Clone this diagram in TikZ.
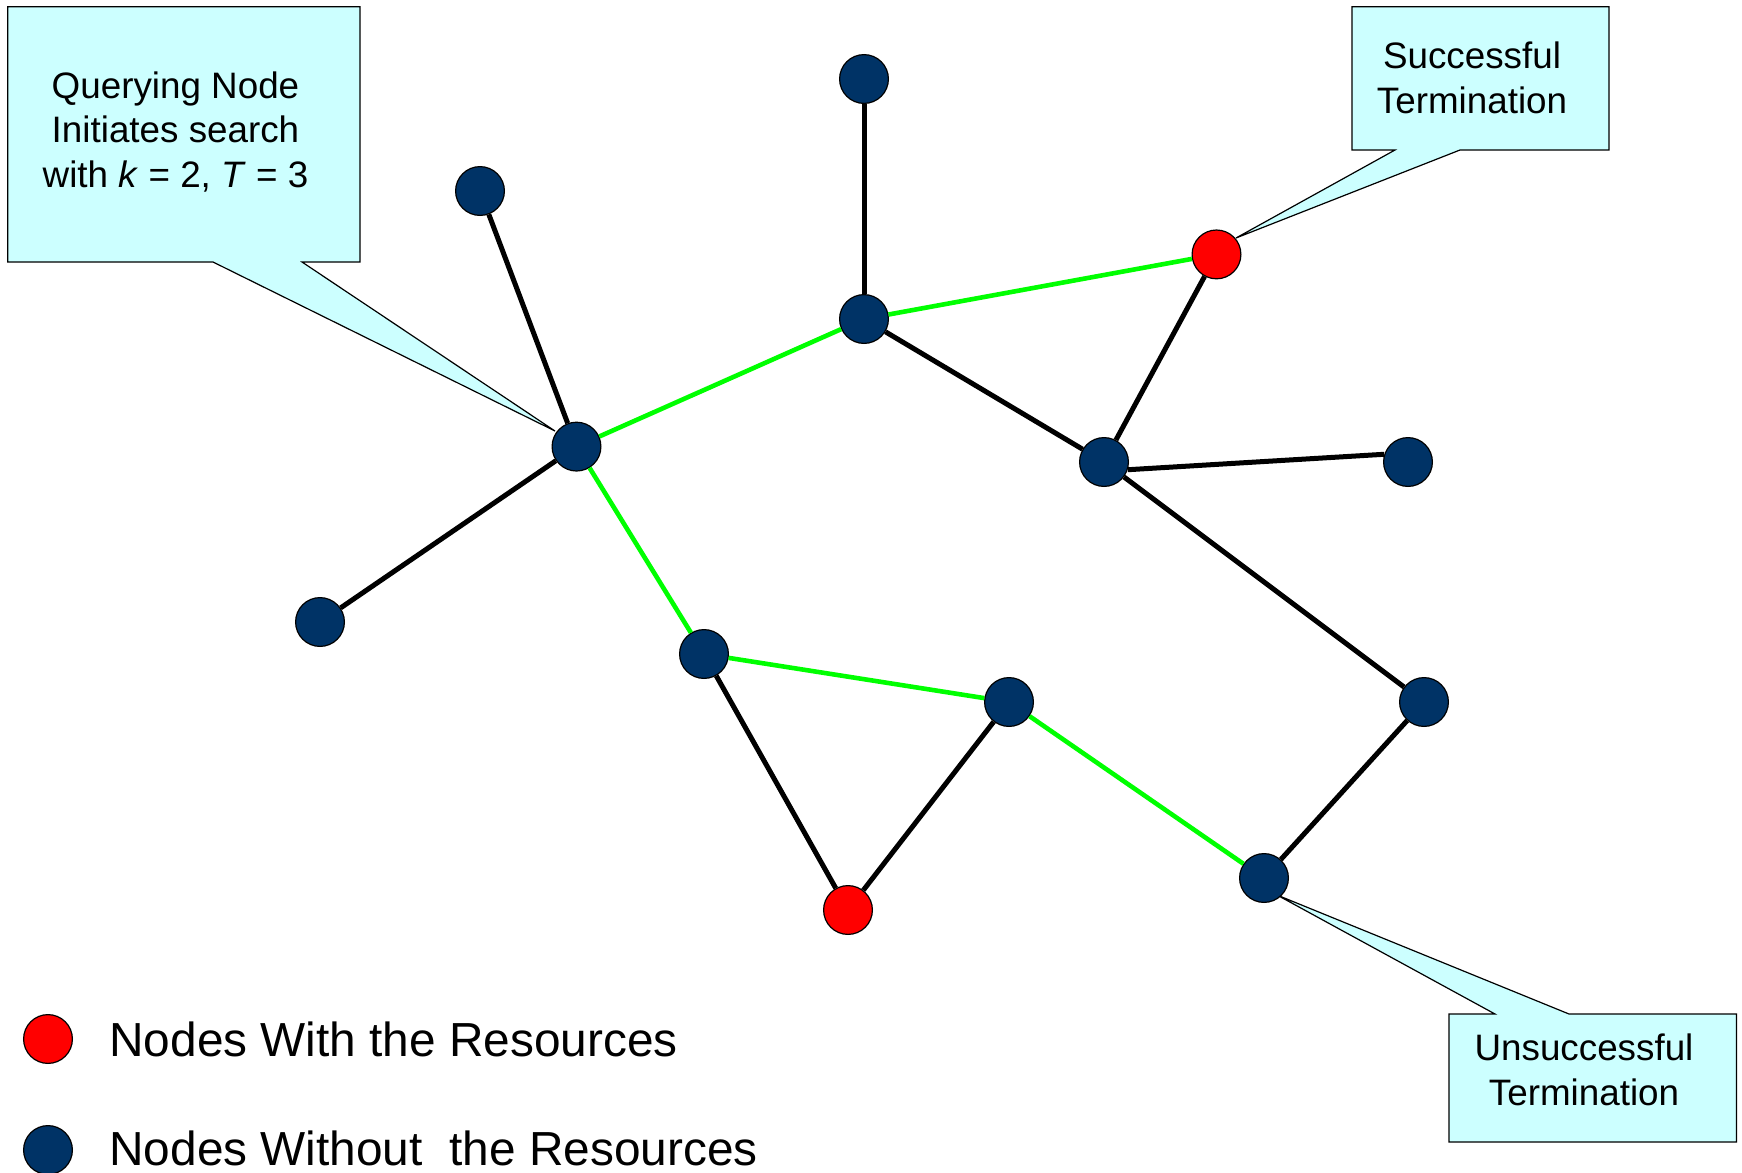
\documentclass[tikz,border=0pt]{standalone}
\usepackage{fontspec}
\setmainfont{Liberation Sans}
\definecolor{nodeblue}{RGB}{0,51,102}
\definecolor{callfill}{RGB}{204,255,255}
\definecolor{pathgreen}{RGB}{0,255,0}
\begin{document}
\begin{tikzpicture}[x=0.5pt,y=-0.5pt,
  peer/.style={circle,draw=black,line width=0.6pt,fill=nodeblue,minimum size=24.4pt,inner sep=0pt},
  res/.style={peer,fill=red},
  link/.style={line width=2.5pt,draw=black},
  walk/.style={line width=2.3pt,draw=pathgreen},
  callout/.style={fill=callfill,draw=black,line width=0.6pt,line join=miter},
  calltext/.style={align=center,font=\fontsize{18.4}{22.2}\selectfont,inner sep=0pt},
  legtext/.style={anchor=west,font=\fontsize{23.9}{28}\selectfont,inner sep=0pt}]
\useasboundingbox (0,0) rectangle (1742,1173);

% callouts
\coordinate (tipq) at (555,431);
\coordinate (tips) at (1236,238);
\coordinate (tipu) at (1277,895);
\draw[callout] (7.8,6.7) -- (360,6.7) -- (360,262) -- (302,262) -- (tipq) -- (213,262) -- (7.8,262) -- cycle;
\draw[callout] (1352,6.7) -- (1609,6.7) -- (1609,150) -- (1460,150) -- (tips) -- (1395,150) -- (1352,150) -- cycle;
\draw[callout] (1449,1014) -- (1495,1014) -- (tipu) -- (1569,1014) -- (1736.5,1014) -- (1736.5,1142) -- (1449,1142) -- cycle;
\node[calltext] (tq) at (175.5,132) {Querying Node\\Initiates search\\with \textit{k} = 2, \textit{T} = 3};
\node[calltext] (ts) at (1472,78) {Successful\\Termination};
\node[calltext] (tu) at (1584,1070) {Unsuccessful\\Termination};

% nodes
\node[peer] (A) at (576.5,446.6) {};
\node[peer] (B) at (480,191) {};
\node[peer] (C) at (320,622) {};
\node[peer] (D) at (864,319) {};
\node[peer] (E) at (864,79) {};
\node[res]  (F) at (1216.5,254.4) {};
\node[peer] (G) at (1104,462) {};
\node[peer] (H) at (1408,462) {};
\node[peer] (I) at (1424,702) {};
\node[peer] (J) at (1264,878) {};
\node[peer] (K) at (1009,702) {};
\node[peer] (L) at (704,654) {};
\node[res]  (M) at (848,910) {};

% edges
\draw[link] (A) -- (B);
\draw[link] (A) -- (C);
\draw[walk] (A) -- (D);
\draw[walk] (A) -- (L);
\draw[link] (D) -- (E);
\draw[walk] (D) -- (F);
\draw[link] (D) -- (G);
\draw[link] (F) -- (G);
\draw[link] (G.-18) -- (H.162);
\draw[link] (G) -- (I);
\draw[link] (I) -- (J);
\draw[walk] (L) -- (K);
\draw[link] (L) -- (M);
\draw[link] (K) -- (M);
\draw[walk] (K) -- (J);

% legend
\node[res]  (lr) at (48,1039) {};
\node[peer] (lb) at (48,1150) {};
\node[legtext] (ltr) at (109,1039) {Nodes With the Resources};
\node[legtext] (ltb) at (109,1148) {Nodes Without\ \ the Resources};
\end{tikzpicture}
\end{document}
